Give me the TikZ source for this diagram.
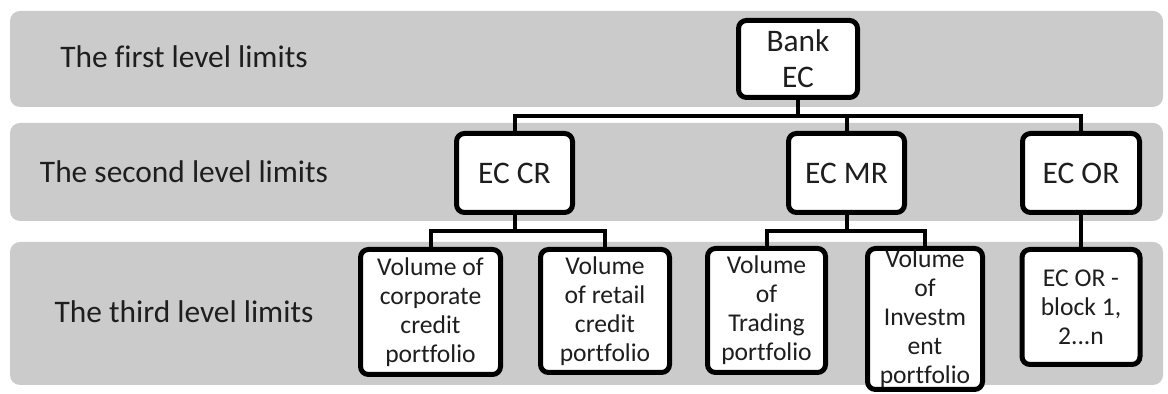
\documentclass[tikz,border=0pt]{standalone}
\usepackage{fontspec}
\setmainfont{Carlito}[Ligatures=NoCommon]
\usepackage{tikz}
\usetikzlibrary{positioning}
\definecolor{bandgray}{RGB}{203,203,203}
\definecolor{inkgray}{RGB}{30,30,30}

\begin{document}
\begin{tikzpicture}[x=0.5pt,y=-0.5pt]
          \tikzset{LevelBand/.style = {fill=bandgray, draw=none, rounded corners=5pt}}
          \tikzset{LevelText/.style = {text=inkgray, font=\fontsize{15.7}{18}\selectfont}}
          \tikzset{BigBox/.style = {draw=black, fill=white, line width=2.5pt, rounded corners=4pt,
                   inner sep=0pt, align=center, text=inkgray, font=\fontsize{15.7}{18}\selectfont}}
          \tikzset{SmallBox/.style = {BigBox, font=\fontsize{12.8}{14.5}\selectfont}}
          \tikzset{Bus/.style = {draw=black, line width=2pt}}

          \useasboundingbox (0,0) rectangle (1168,394);
          \fill[white] (0,0) rectangle (1168,394);

          \path[LevelBand] (10,11) rectangle (1163,107);
          \path[LevelBand] (10,123) rectangle (1163,221);
          \path[LevelBand] (10,242) rectangle (1163,385);

          \node[LevelText] (first) at (184,57) {The first level limits};
          \node[LevelText] (second) at (184,172) {The second level limits};
          \node[LevelText] (third) at (184,312) {The third level limits};

          \node[BigBox, minimum width=59.5pt, minimum height=38.5pt] (bank) at (798,59) {Bank\\EC};

          \node[BigBox, minimum width=58pt, minimum height=39.5pt] (eccr) at (514.5,173) {EC CR};
          \node[BigBox, minimum width=58pt, minimum height=39.5pt] (ecmr) at (846.5,173) {EC MR};
          \node[BigBox, minimum width=58.5pt, minimum height=39.5pt] (ecor) at (1081,173) {EC OR};

          \node[SmallBox, minimum width=70pt, minimum height=62.5pt] (corp) at (430.5,312) {Volume of\\corporate\\credit\\portfolio};
          \node[SmallBox, minimum width=64.5pt, minimum height=61.5pt] (retail) at (605,311) {Volume\\of retail\\credit\\portfolio};
          \node[SmallBox, minimum width=59pt, minimum height=62pt] (trading) at (766.5,310.5) {Volume\\of\\Trading\\portfolio};
          \node[SmallBox, minimum width=57.5pt, minimum height=70.5pt] (invest) at (925,319) {Volume\\of\\Investm\\ent\\portfolio};
          \node[SmallBox, minimum width=59pt, minimum height=57.5pt] (block) at (1081,307) {EC OR -\\block 1,\\2...n};

          \coordinate (bus1) at (798,116);
          \coordinate (bus2) at (514.5,231);
          \coordinate (bus3) at (846.5,231);

          \draw[Bus] (bank.south) -- (bus1) -| (eccr.north);
          \draw[Bus] (bus1) -| (ecmr.north);
          \draw[Bus] (bus1) -| (ecor.north);

          \draw[Bus] (eccr.south) -- (bus2) -| (corp.north);
          \draw[Bus] (bus2) -| (retail.north);
          \draw[Bus] (ecmr.south) -- (bus3) -| (trading.north);
          \draw[Bus] (bus3) -| (invest.north);
          \draw[Bus] (ecor.south) -- (block.north);
        \end{tikzpicture}
\end{document}
